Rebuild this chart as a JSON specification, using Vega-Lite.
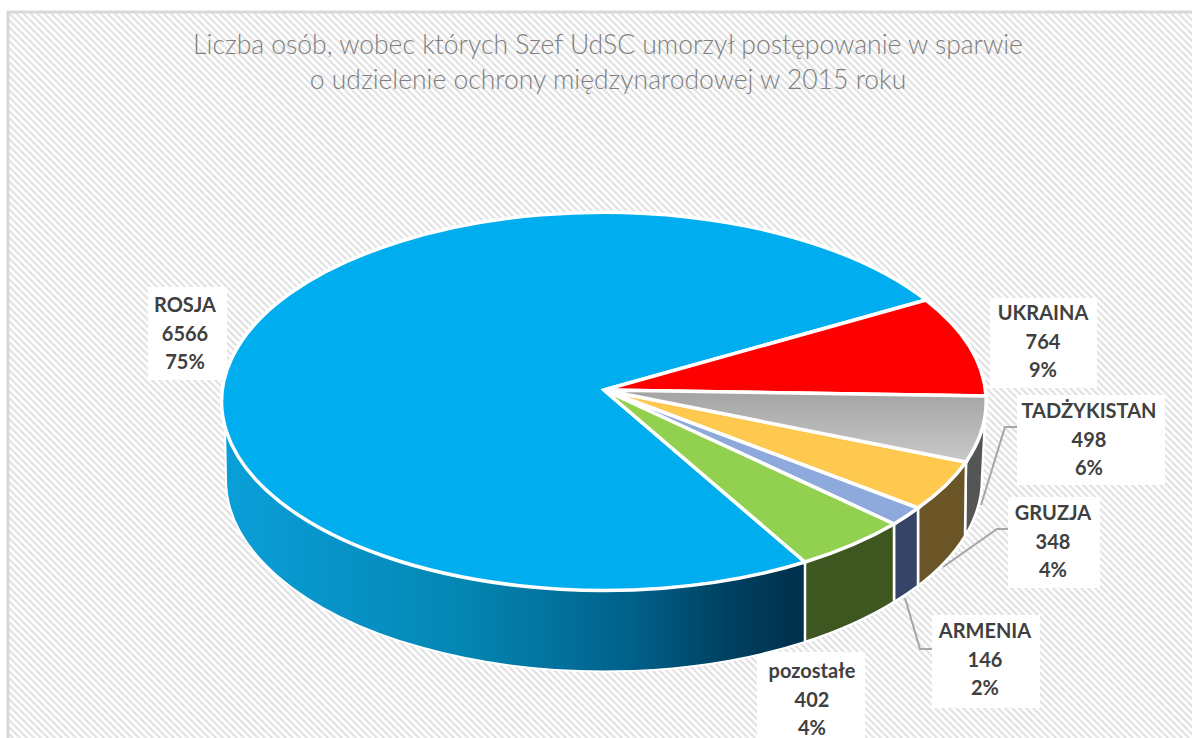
{
"$schema":"https://vega.github.io/schema/vega-lite/v6.json",
"width":1192,"height":738,"padding":0,"autosize":{"type":"none"},"background":"white",
"config":{"view":{"stroke":null}},
"title":{"text":["Liczba osób, wobec których Szef UdSC umorzył postępowanie w sparwie","o udzielenie ochrony międzynarodowej w 2015 roku"],"font":"Lato","fontWeight":300,"fontSize":26.5,"lineHeight":35,"color":"#7f7f7f","anchor":"middle","frame":"group","baseline":"alphabetic","dx":12,"dy":115,"offset":0},
"data":{"values":[
{"nazwa":"ROSJA","wartosc":6566,"udzial":75,"etykieta":"ROSJA\n6566\n75%"},
{"nazwa":"UKRAINA","wartosc":764,"udzial":9,"etykieta":"UKRAINA\n764\n9%"},
{"nazwa":"TADŻYKISTAN","wartosc":498,"udzial":6,"etykieta":"TADŻYKISTAN\n498\n6%"},
{"nazwa":"GRUZJA","wartosc":348,"udzial":4,"etykieta":"GRUZJA\n348\n4%"},
{"nazwa":"ARMENIA","wartosc":146,"udzial":2,"etykieta":"ARMENIA\n146\n2%"},
{"nazwa":"pozostałe","wartosc":402,"udzial":4,"etykieta":"pozostałe\n402\n4%"}
]},
"encoding":{
"x":{"datum":604,"type":"quantitative","scale":{"domain":[0,1192],"range":[0,1192]},"axis":null},
"y":{"datum":390,"type":"quantitative","scale":{"domain":[0,738],"range":[0,738]},"axis":null}
},
"resolve":{"scale":{"shape":"independent","color":"independent"}},
"layer":[
{"data":{"values":[{"warstwa":"tlo"}]},
"mark":{"type":"point","filled":false,"opacity":1,"size":4,"stroke":"#e4e4e4","strokeWidth":2.4,"shape":"M8,12l730,730m-723,-730l730,730m-723,-730l730,730m-723,-730l730,730m-723,-730l730,730m-723,-730l730,730m-723,-730l730,730m-723,-730l730,730m-723,-730l730,730m-723,-730l730,730m-723,-730l730,730m-723,-730l730,730m-723,-730l730,730m-723,-730l730,730m-723,-730l730,730m-723,-730l730,730m-723,-730l730,730m-723,-730l730,730m-723,-730l730,730m-723,-730l730,730m-723,-730l730,730m-723,-730l730,730m-723,-730l730,730m-723,-730l730,730m-723,-730l730,730m-723,-730l730,730m-723,-730l730,730m-723,-730l730,730m-723,-730l730,730m-723,-730l730,730m-723,-730l730,730m-723,-730l730,730m-723,-730l730,730m-723,-730l730,730m-723,-730l730,730m-723,-730l730,730m-723,-730l730,730m-723,-730l730,730m-723,-730l730,730m-723,-730l730,730m-723,-730l730,730m-723,-730l730,730m-723,-730l730,730m-723,-730l730,730m-723,-730l730,730m-723,-730l730,730m-723,-730l730,730m-723,-730l730,730m-723,-730l730,730m-723,-730l730,730m-723,-730l730,730m-723,-730l730,730m-723,-730l730,730m-723,-730l730,730m-723,-730l730,730m-723,-730l730,730m-723,-730l730,730m-723,-730l730,730m-723,-730l730,730m-723,-730l730,730m-723,-730l730,730m-723,-730l730,730m-723,-730l730,730m-723,-730l730,730m-723,-730l730,730m-723,-730l730,730m-723,-730l730,730m-723,-730l730,730m-723,-730l730,730m-723,-730l730,730m-723,-730l730,730m-723,-730l730,730m-723,-730l730,730m-723,-730l730,730m-723,-730l730,730m-723,-730l730,730m-723,-730l730,730m-723,-730l730,730m-723,-730l730,730m-723,-730l730,730m-723,-730l730,730m-723,-730l730,730m-723,-730l730,730m-723,-730l730,730m-723,-730l730,730m-723,-730l730,730m-723,-730l730,730m-723,-730l730,730m-723,-730l730,730m-723,-730l730,730m-723,-730l730,730m-723,-730l730,730m-723,-730l730,730m-723,-730l730,730m-723,-730l730,730m-723,-730l730,730m-723,-730l730,730m-723,-730l730,730m-723,-730l730,730m-723,-730l730,730m-723,-730l730,730m-723,-730l730,730m-723,-730l730,730m-723,-730l730,730m-723,-730l730,730m-723,-730l730,730m-723,-730l730,730m-723,-730l730,730m-723,-730l730,730m-723,-730l730,730m-723,-730l730,730m-723,-730l730,730m-723,-730l730,730m-723,-730l730,730m-723,-730l730,730m-723,-730l730,730m-723,-730l730,730m-723,-730l730,730m-723,-730l730,730m-723,-730l730,730m-723,-730l730,730m-723,-730l730,730m-723,-730l730,730m-723,-730l730,730m-723,-730l730,730m-723,-730l730,730m-723,-730l730,730m-723,-730l730,730m-723,-730l730,730m-723,-730l730,730m-723,-730l730,730m-723,-730l730,730m-723,-730l730,730m-723,-730l730,730m-723,-730l730,730m-723,-730l730,730m-723,-730l730,730m-723,-730l730,730m-723,-730l730,730m-723,-730l730,730m-723,-730l730,730m-723,-730l730,730m-723,-730l730,730m-723,-730l730,730m-723,-730l730,730m-723,-730l730,730m-723,-730l730,730m-723,-730l730,730m-723,-730l730,730m-723,-730l730,730m-723,-730l730,730m-723,-730l730,730m-723,-730l730,730m-723,-730l730,730m-723,-730l730,730m-723,-730l730,730m-723,-730l730,730m-723,-730l730,730m-723,-730l730,730m-723,-730l730,730m-723,-730l730,730m-723,-730l730,730m-723,-730l730,730M1128,12l730,730M1135,12l730,730M1142,12l730,730M1149,12l730,730M1156,12l730,730M1163,12l730,730M1170,12l730,730M1177,12l730,730M1184,12l730,730M1191,12l730,730M8,19l730,730M8,26l730,730M8,33l730,730M8,40l730,730M8,47l730,730M8,54l730,730M8,61l730,730M8,68l730,730M8,75l730,730M8,82l730,730M8,89l730,730M8,96l730,730M8,103l730,730M8,110l730,730M8,117l730,730M8,124l730,730M8,131l730,730M8,138l730,730M8,145l730,730M8,152l730,730M8,159l730,730M8,166l730,730M8,173l730,730M8,180l730,730M8,187l730,730M8,194l730,730M8,201l730,730M8,208l730,730M8,215l730,730M8,222l730,730M8,229l730,730M8,236l730,730M8,243l730,730M8,250l730,730M8,257l730,730M8,264l730,730M8,271l730,730M8,278l730,730M8,285l730,730M8,292l730,730M8,299l730,730M8,306l730,730M8,313l730,730M8,320l730,730M8,327l730,730M8,334l730,730M8,341l730,730M8,348l730,730M8,355l730,730M8,362l730,730M8,369l730,730M8,376l730,730M8,383l730,730M8,390l730,730M8,397l730,730M8,404l730,730M8,411l730,730M8,418l730,730M8,425l730,730M8,432l730,730M8,439l730,730M8,446l730,730M8,453l730,730M8,460l730,730M8,467l730,730M8,474l730,730M8,481l730,730M8,488l730,730M8,495l730,730M8,502l730,730M8,509l730,730M8,516l730,730M8,523l730,730M8,530l730,730M8,537l730,730M8,544l730,730M8,551l730,730M8,558l730,730M8,565l730,730M8,572l730,730M8,579l730,730M8,586l730,730M8,593l730,730M8,600l730,730M8,607l730,730M8,614l730,730M8,621l730,730M8,628l730,730M8,635l730,730M8,642l730,730M8,649l730,730M8,656l730,730M8,663l730,730M8,670l730,730M8,677l730,730M8,684l730,730M8,691l730,730M8,698l730,730M8,705l730,730M8,712l730,730M8,719l730,730M8,726l730,730M8,733l730,730"},
"encoding":{"x":{"datum":0,"type":"quantitative"},"y":{"datum":0,"type":"quantitative"}}},
{"data":{"values":[{"warstwa":"ramka"}]},
"mark":{"type":"point","filled":false,"opacity":1,"size":4,"stroke":"#d9d9d9","strokeWidth":3,"shape":"M8,738V12H1192"},
"encoding":{"x":{"datum":0,"type":"quantitative"},"y":{"datum":0,"type":"quantitative"}}},
{"mark":{"type":"point","filled":true,"opacity":1,"size":4,"color":"white"},
"encoding":{"shape":{"field":"nazwa","type":"nominal","legend":null,"scale":{"domain":["ROSJA","UKRAINA","TADŻYKISTAN","GRUZJA","ARMENIA","pozostałe"],"range":["M-456,-103H-377V-10H-456Z","M386,-92H493V-2H386Z","M413,5H561V95H413Z","M404,107H496V198H404Z","M328,225H436V318H328Z","M153,262H261V348H153Z"]}}}},
{"transform":[{"filter":{"field":"nazwa","oneOf":["TADŻYKISTAN","GRUZJA","ARMENIA"]}}],
"mark":{"type":"point","filled":false,"opacity":1,"size":4,"stroke":"#a6a6a6","strokeWidth":2},
"encoding":{"shape":{"field":"nazwa","type":"nominal","legend":null,"scale":{"domain":["TADŻYKISTAN","GRUZJA","ARMENIA"],"range":["M413,37L401,37L377,115","M404,139L393,139L339,177","M328,259L316,259L301,208"]}}}},
{"transform":[{"filter":{"field":"nazwa","equal":"ROSJA"}}],
"mark":{"type":"point","filled":true,"opacity":1,"size":4,"stroke":"white","strokeWidth":2,"shape":"M-379,35A382,189 0 0 0 201,172L201,252A378,192 0 0 1 -378,89Z","color":{"gradient":"linear","x1":0,"y1":0,"x2":1,"y2":0,"stops":[{"offset":0,"color":"#0a9fd9"},{"offset":0.4,"color":"#0487b4"},{"offset":0.7,"color":"#00618a"},{"offset":0.87,"color":"#004060"},{"offset":1,"color":"#002f4a"}]}}},
{"transform":[{"filter":{"field":"nazwa","oneOf":["TADŻYKISTAN","GRUZJA","ARMENIA","pozostałe"]}}],
"mark":{"type":"point","filled":true,"opacity":1,"size":4,"stroke":"white","strokeWidth":2.5},
"encoding":{
"shape":{"field":"nazwa","type":"nominal","legend":null,"scale":{"domain":["TADŻYKISTAN","GRUZJA","ARMENIA","pozostałe"],"range":["M362,72A382,189 0 0 0 381,30L378,89A378,192 0 0 1 361,146Z","M314,118A382,189 0 0 0 362,72L361,146A378,192 0 0 1 314,196Z","M290,134A382,189 0 0 0 314,118L314,196A378,192 0 0 1 290,212Z","M201,172A382,189 0 0 0 290,134L290,212A378,192 0 0 1 201,252Z"]}},
"color":{"field":"nazwa","type":"nominal","legend":null,"scale":{"domain":["TADŻYKISTAN","GRUZJA","ARMENIA","pozostałe"],"range":["#555555","#6b5426","#364567","#3e5720"]}}}},
{"transform":[{"filter":{"field":"nazwa","oneOf":["ROSJA","UKRAINA","GRUZJA","ARMENIA","pozostałe"]}}],
"mark":{"type":"point","filled":true,"opacity":1,"size":4,"stroke":"white","strokeWidth":3.5},
"encoding":{
"shape":{"field":"nazwa","type":"nominal","legend":null,"scale":{"domain":["ROSJA","UKRAINA","GRUZJA","ARMENIA","pozostałe"],"range":["M0,0L322,-90A382,189 0 1 0 201,172Z","M0,0L322,-90A382,189 0 0 1 382,6Z","M0,0L362,72A382,189 0 0 1 314,118Z","M0,0L314,118A382,189 0 0 1 290,134Z","M0,0L290,134A382,189 0 0 1 201,172Z"]}},
"color":{"field":"nazwa","type":"nominal","legend":null,"scale":{"domain":["ROSJA","UKRAINA","GRUZJA","ARMENIA","pozostałe"],"range":["#00adef","#ff0000","#ffc94f","#8ea9db","#92d050"]}}}},
{"transform":[{"filter":{"field":"nazwa","equal":"TADŻYKISTAN"}}],
"mark":{"type":"point","filled":true,"opacity":1,"size":4,"stroke":"white","strokeWidth":3.5,"shape":"M0,0L382,6A382,189 0 0 1 362,72Z","color":{"gradient":"linear","x1":0,"y1":0,"x2":0,"y2":1,"stops":[{"offset":0,"color":"#a3a3a3"},{"offset":1,"color":"#c9c9c9"}]}}},
{"transform":[{"filter":{"field":"nazwa","equal":"ROSJA"}}],"mark":{"type":"text","font":"Lato","fontWeight":"bold","fontSize":20,"lineHeight":28.5,"lineBreak":"\n","color":"#404040","align":"center","baseline":"middle"},"encoding":{"text":{"field":"etykieta"},"x":{"datum":185,"type":"quantitative"},"y":{"datum":306,"type":"quantitative"}}},
{"transform":[{"filter":{"field":"nazwa","equal":"UKRAINA"}}],"mark":{"type":"text","font":"Lato","fontWeight":"bold","fontSize":20,"lineHeight":28.5,"lineBreak":"\n","color":"#404040","align":"center","baseline":"middle"},"encoding":{"text":{"field":"etykieta"},"x":{"datum":1043,"type":"quantitative"},"y":{"datum":314,"type":"quantitative"}}},
{"transform":[{"filter":{"field":"nazwa","equal":"TADŻYKISTAN"}}],"mark":{"type":"text","font":"Lato","fontWeight":"bold","fontSize":20,"lineHeight":28.5,"lineBreak":"\n","color":"#404040","align":"center","baseline":"middle"},"encoding":{"text":{"field":"etykieta"},"x":{"datum":1089,"type":"quantitative"},"y":{"datum":412,"type":"quantitative"}}},
{"transform":[{"filter":{"field":"nazwa","equal":"GRUZJA"}}],"mark":{"type":"text","font":"Lato","fontWeight":"bold","fontSize":20,"lineHeight":28.5,"lineBreak":"\n","color":"#404040","align":"center","baseline":"middle"},"encoding":{"text":{"field":"etykieta"},"x":{"datum":1053,"type":"quantitative"},"y":{"datum":514,"type":"quantitative"}}},
{"transform":[{"filter":{"field":"nazwa","equal":"ARMENIA"}}],"mark":{"type":"text","font":"Lato","fontWeight":"bold","fontSize":20,"lineHeight":28.5,"lineBreak":"\n","color":"#404040","align":"center","baseline":"middle"},"encoding":{"text":{"field":"etykieta"},"x":{"datum":985,"type":"quantitative"},"y":{"datum":632,"type":"quantitative"}}},
{"transform":[{"filter":{"field":"nazwa","equal":"pozostałe"}}],"mark":{"type":"text","font":"Lato","fontWeight":"bold","fontSize":20,"lineHeight":28.5,"lineBreak":"\n","color":"#404040","align":"center","baseline":"middle"},"encoding":{"text":{"field":"etykieta"},"x":{"datum":812,"type":"quantitative"},"y":{"datum":672,"type":"quantitative"}}}
]
}
